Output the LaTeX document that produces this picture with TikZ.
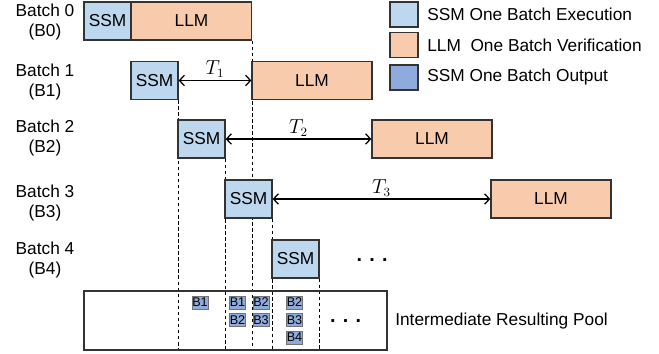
\documentclass[tikz,border=0pt]{standalone}
\usepackage{amsmath}
\usepackage{fontspec}
\setmainfont{Liberation Sans}
\usepackage{tikz}
\usetikzlibrary{arrows.meta,backgrounds}

\definecolor{ssmblue}{HTML}{BDD7EE}
\definecolor{llmorange}{HTML}{F8CBAD}
\definecolor{outblue}{HTML}{8FAADC}
\definecolor{edgegray}{HTML}{333333}

\tikzset{
 ssm/.style={draw=edgegray,line width=0.9pt,fill=ssmblue,minimum width=1.175cm,minimum height=0.95cm,inner sep=0pt},
 llm/.style={draw=edgegray,line width=0.9pt,fill=llmorange,minimum width=3cm,minimum height=0.95cm,inner sep=0pt},
 outbox/.style={draw=black!55,line width=0.6pt,fill=outblue,minimum width=0.4cm,minimum height=0.325cm,inner sep=0pt,font=\fontsize{9}{9}\selectfont},
 keybox/.style={draw=edgegray,line width=0.9pt,minimum width=0.7cm,minimum height=0.625cm,inner sep=0pt},
 guide/.style={line width=0.6pt,dash pattern=on 2.5pt off 1.8pt},
 batchlabel/.style={align=center,inner sep=0pt},
 waiting/.style={{Straight Barb[length=3.5pt,width=7.5pt]}-{Straight Barb[length=3.5pt,width=7.5pt]},line width=0.9pt},
 wait label/.style={midway,above=0pt,inner sep=1.5pt,font=\fontsize{13.5}{14}\selectfont},
 dots/.style={font=\fontsize{14}{14}\bfseries}
}

\begin{document}
\begin{tikzpicture}[x=0.025cm,y=-0.025cm,font=\fontsize{12.3}{14.2}\selectfont]
\useasboundingbox (0,0) rectangle (659,354);
% batch labels
\node[batchlabel] (lab0) at (45,22) {Batch 0\\(B0)};
\node[batchlabel] (lab1) at (45,82) {Batch 1\\(B1)};
\node[batchlabel] (lab2) at (45,138) {Batch 2\\(B2)};
\node[batchlabel] (lab3) at (45,203) {Batch 3\\(B3)};
\node[batchlabel] (lab4) at (45,260) {Batch 4\\(B4)};
% executions
\node[ssm] (ssm0) at (107.5,21) {SSM};
\node[llm] (llm0) at (191.5,21) {LLM};
\node[ssm] (ssm1) at (154.5,80.5) {SSM};
\node[llm] (llm1) at (312,80.5) {LLM};
\node[ssm] (ssm2) at (201.5,139) {SSM};
\node[llm] (llm2) at (432,139) {LLM};
\node[ssm] (ssm3) at (248.5,199) {SSM};
\node[llm] (llm3) at (551,199) {LLM};
\node[ssm] (ssm4) at (295.5,259) {SSM};
\node[dots] (more) at (372,260) {. . .};
% pool
\node[draw=edgegray,line width=0.9pt,minimum width=7.575cm,minimum height=1.475cm,inner sep=0pt] (pool) at (235.5,320.5) {};
\node[anchor=west,inner sep=0pt] (poollab) at (395,321) {Intermediate Resulting Pool};
\node[dots] (poolmore) at (345.5,321) {. . .};
% dashed guides
\begin{scope}[on background layer]
\draw[guide] (ssm1.south east) -- (ssm1.south east |- pool.south);
\draw[guide] (llm0.south east) -- (llm0.south east |- pool.south);
\draw[guide] (ssm2.south east) -- (ssm2.south east |- pool.south);
\draw[guide] (ssm3.south east) -- (ssm3.south east |- pool.south);
\draw[guide] (ssm4.south east) -- (ssm4.south east |- pool.south);
\end{scope}
% outputs in pool
\node[outbox] (o11) at (200,302.5) {B1};
\node[outbox] (o21) at (237.5,302.5) {B1};
\node[outbox] (o22) at (237.5,320) {B2};
\node[outbox] (o32) at (261,302.5) {B2};
\node[outbox] (o33) at (261,320) {B3};
\node[outbox] (o42) at (294.5,302.5) {B2};
\node[outbox] (o43) at (294.5,320) {B3};
\node[outbox] (o44) at (294.5,337.5) {B4};
% waiting times
\draw[waiting] (ssm1.east) -- (llm1.west) node[wait label] {$T_1$};
\draw[waiting] (ssm2.east) -- (llm2.west) node[wait label] {$T_2$};
\draw[waiting] (ssm3.east) -- (llm3.west) node[wait label] {$T_3$};
% legend
\node[keybox,fill=ssmblue] (key1) at (404,14.5) {};
\node[anchor=west,inner sep=0pt] at (427,14.5) {SSM One Batch Execution};
\node[keybox,fill=llmorange] (key2) at (404,45) {};
\node[anchor=west,inner sep=0pt] at (427,45) {LLM\ \ One Batch Verification};
\node[keybox,fill=outblue] (key3) at (404,77.5) {};
\node[anchor=west,inner sep=0pt] at (427,77.5) {SSM One Batch Output};
\end{tikzpicture}
\end{document}
